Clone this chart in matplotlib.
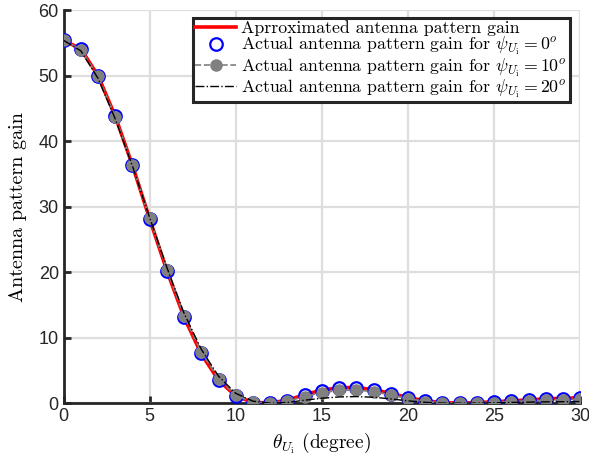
import matplotlib
matplotlib.use("Agg")
import matplotlib.pyplot as plt
import numpy as np

theta = list(range(0, 31))
approx_gain = [55.4, 54.1, 50.0, 43.8, 36.3, 28.1, 20.2, 13.1, 7.5, 3.5, 1.1, 0.1,
               0.05, 0.45, 1.3, 2.0, 2.35, 2.4, 2.05, 1.5, 0.85, 0.35, 0.08, 0.0,
               0.08, 0.2, 0.35, 0.5, 0.65, 0.75, 0.8]
actual_psi0 = [55.4, 54.1, 50.0, 43.8, 36.3, 28.1, 20.2, 13.1, 7.6, 3.5, 1.1, 0.1,
               0.0, 0.35, 1.2, 1.9, 2.3, 2.3, 2.0, 1.45, 0.8, 0.3, 0.05, 0.0,
               0.05, 0.15, 0.3, 0.45, 0.6, 0.7, 0.75]
actual_psi10 = [55.4, 54.0, 49.9, 43.7, 36.3, 28.2, 20.4, 13.3, 7.8, 3.7, 1.2, 0.15,
                0.0, 0.3, 1.0, 1.6, 1.95, 2.0, 1.75, 1.25, 0.7, 0.25, 0.03, 0.0,
                0.03, 0.1, 0.25, 0.35, 0.45, 0.55, 0.6]
actual_psi20 = [55.4, 53.8, 49.6, 43.4, 36.2, 28.3, 20.7, 13.7, 8.2, 4.1, 1.5, 0.3,
                0.0, 0.1, 0.45, 0.75, 0.95, 1.0, 0.9, 0.65, 0.35, 0.12, 0.01, 0.0,
                0.01, 0.05, 0.1, 0.15, 0.2, 0.22, 0.25]

plt.rcParams['mathtext.fontset'] = 'cm'
plt.rcParams['axes.unicode_minus'] = False
serif = 'cmr10'

fig = plt.figure(figsize=(5.89, 4.65), dpi=100)
ax = fig.add_axes([0.108, 0.133, 0.877, 0.845])

ax.plot(theta, approx_gain, color='#ff0000', lw=2.6, zorder=3,
        label='Aprroximated antenna pattern gain')
ax.plot(theta, actual_psi0, linestyle='none', marker='o', markersize=9,
        markerfacecolor='none', markeredgecolor='#0000ff', markeredgewidth=1.6, zorder=4,
        label=r'Actual antenna pattern gain for $\psi_{U_\mathrm{i}}=0^o$')
ax.plot(theta, actual_psi10, color='#808080', linestyle='--', lw=1.2, marker='o',
        markersize=8, markerfacecolor='#808080', markeredgecolor='#808080', zorder=5,
        label=r'Actual antenna pattern gain for $\psi_{U_\mathrm{i}}=10^o$')
ax.plot(theta, actual_psi20, color='black', linestyle='-.', lw=1.0, zorder=6,
        label=r'Actual antenna pattern gain for $\psi_{U_\mathrm{i}}=20^o$')

ax.set_xlim(0, 30)
ax.set_ylim(0, 60)
ax.set_xticks([0, 5, 10, 15, 20, 25, 30])
ax.set_yticks([0, 10, 20, 30, 40, 50, 60])
ax.grid(True, color='#dedede', lw=1.6)
ax.set_axisbelow(True)
for s in ['top', 'right']:
    ax.spines[s].set_visible(False)
for s in ['left', 'bottom']:
    ax.spines[s].set_linewidth(2.0)
    ax.spines[s].set_color('#262626')
ax.tick_params(direction='in', length=5, width=2.0, color='#262626',
               labelsize=13, labelcolor='#262626')
for lab in ax.get_xticklabels() + ax.get_yticklabels():
    lab.set_family('Liberation Sans')

ax.set_xlabel(r'$\theta_{U_\mathrm{i}}$ (degree)', fontsize=14, family=serif)
ax.set_ylabel('Antenna pattern gain', fontsize=14.5, family=serif, labelpad=8)

leg = ax.legend(loc='upper right', bbox_to_anchor=(0.99, 0.995), prop={'family': serif, 'size': 12.8},
                fancybox=False, framealpha=1, edgecolor='#262626', handlelength=2.3,
                handletextpad=0.3, borderpad=0.15, labelspacing=-0.05, borderaxespad=0.3)
leg.get_frame().set_linewidth(2.2)

fig.savefig('out.png', dpi=100)
